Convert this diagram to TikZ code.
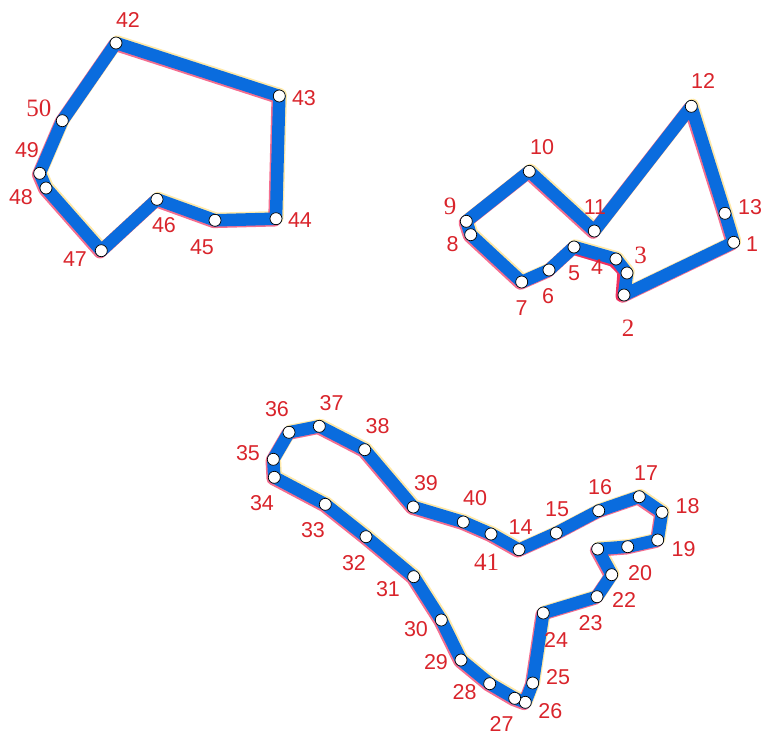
\documentclass[tikz,border=0pt]{standalone}
\usepackage{fontspec}
\setmainfont{Liberation Sans}
\newfontfamily\serifnum{Liberation Serif}
\usepackage{xcolor}
\usetikzlibrary{backgrounds}
\definecolor{trackblue}{HTML}{0A6CDE}
\definecolor{numred}{HTML}{D9242B}
\definecolor{fringered}{HTML}{F0305F}
\definecolor{fringeyellow}{HTML}{FFE9A8}

\begin{document}
\begin{tikzpicture}[
    x=1pt, y=-1pt,
    pt/.style={circle, draw=black, fill=white, line width=0.7pt, inner sep=0pt, minimum size=12pt},
    num/.style={text=numred, inner sep=0pt, font=\fontsize{21.5}{21.5}\selectfont},
    numserif/.style={text=numred, inner sep=0pt, font=\serifnum\fontsize{25}{25}\selectfont},
    edge/.style={draw=trackblue, line width=12.5pt, line join=round},
    fringeA/.style={draw=fringered, opacity=0.7, line width=13pt, line join=round},
    fringeB/.style={draw=fringeyellow, line width=13pt, line join=round},
    fringeC/.style={draw=fringered, line width=9pt, line join=round, line cap=round}
]
    \useasboundingbox (0,0) rectangle (764,740);

    % outline points
    \foreach \i/\x/\y in {
        1/733.7/242.3, 2/624/295, 3/627/273, 4/616/259, 5/574/247, 6/549/270, 7/521.7/282,
        8/470.7/234.7, 9/466.3/221.3, 10/529.3/171.3, 11/594.3/231, 12/691.3/106.3, 13/725/213.3,
        14/519/549.7, 15/556.3/533, 16/598.7/510.7, 17/639.3/496.7, 18/662/512.3, 19/657.7/540,
        20/627.7/546.7, 21/597.7/549, 22/611.7/574.7, 23/597/596.7, 24/543.3/613, 25/532.7/683,
        26/525.3/702.3, 27/514.7/698.3, 28/489.7/683.7, 29/461/660, 30/441.3/620, 31/413.7/576.7,
        32/366/536.7, 33/325.3/504.3, 34/274.3/477.3, 35/273.3/459.3, 36/289/432.3, 37/319.3/426.3,
        38/364.7/449.7, 39/413.3/507, 40/463.3/522, 41/491/534,
        42/116/43, 43/279.3/96, 44/276/218.7, 45/215/220.3, 46/157/199.3, 47/101.3/250.7,
        48/46/188, 49/39.7/173.3, 50/62.3/120.7}
        \node [pt] (n\i) at (\x,\y) {};

    % numbers
    \foreach \i/\x/\y in {
        1/752/244, 4/597/267, 5/574/273, 6/548/296, 7/521.7/308, 8/452.7/244, 10/542/147,
        11/595/207, 12/703/81, 13/750/207,
        14/520.7/527, 15/557/509, 16/600/486.7, 17/646/472.7, 18/687.7/506, 19/683.7/549.3,
        20/640/573.3, 22/624/600, 23/590.7/623, 24/556/640, 25/558/676.7, 26/550.3/710.7,
        27/501.7/724.3, 28/464.7/692, 29/436/662, 30/416/629, 31/388/589, 32/354/562.7,
        33/313/530, 34/262/503, 35/248/453, 36/277/409, 37/331.7/402.7, 38/377.7/425.7,
        39/426/483, 40/475/498,
        42/128/20, 43/304/98, 44/300/220, 45/202/247, 46/164/225, 47/75/259, 48/21/197, 49/27/150}
        \node [num] (l\i) at (\x,\y) {\i};
    \foreach \i/\x/\y in {2/628/328, 3/640.7/255.7, 9/450/206.7, 41/486.7/562.3, 50/39/108}
        \node [numserif] (l\i) at (\x,\y) {\i};

    \begin{pgfonlayer}{background}
        % heavier red under the inner bend
        \draw [fringeC] ([shift={(-4,2)}]n2.center) -- ([shift={(-5,-2)}]n3.center) -- ([shift={(-4,3)}]n4.center) -- ([shift={(-1,3)}]n5.center);
        % the three loops, fringes first
        \foreach \a/\b in {1/13, 14/41, 42/50} {
            \pgfmathtruncatemacro{\c}{\a+1}
            \draw [fringeB] ([shift={(1.2,-1.2)}]n\a.center)
                \foreach \i in {\c,...,\b} { -- ([shift={(1.2,-1.2)}]n\i.center) } -- cycle;
            \draw [fringeA] ([shift={(-1.3,1.3)}]n\a.center)
                \foreach \i in {\c,...,\b} { -- ([shift={(-1.3,1.3)}]n\i.center) } -- cycle;
            \draw [edge] (n\a.center)
                \foreach \i in {\c,...,\b} { -- (n\i.center) } -- cycle;
        }
    \end{pgfonlayer}
\end{tikzpicture}
\end{document}
